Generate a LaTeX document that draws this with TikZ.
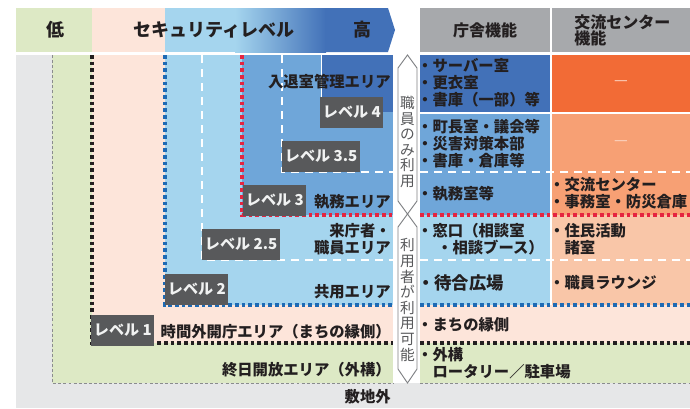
\documentclass[tikz,border=0pt]{standalone}
\usepackage{fontspec}
\setmainfont{Noto Sans CJK JP}
\usepackage{tikz}

\definecolor{bggray}{HTML}{E6E7E8}
\definecolor{lvgreen}{HTML}{DDE9C5}
\definecolor{lvpink}{HTML}{FDE5DA}
\definecolor{lvlight}{HTML}{A5D5EE}
\definecolor{lvmid}{HTML}{6FA6D9}
\definecolor{lvdark}{HTML}{4271B8}
\definecolor{orgdark}{HTML}{F26B36}
\definecolor{orgmid}{HTML}{F7A074}
\definecolor{orgpeach}{HTML}{F9C6A8}
\definecolor{hdgray}{HTML}{A7A9AC}
\definecolor{boxgray}{HTML}{58595B}
\definecolor{boxtext}{HTML}{F1F2F2}
\definecolor{txtdark}{HTML}{231F20}
\definecolor{vtgray}{HTML}{58595B}
\definecolor{ribbongray}{HTML}{808285}
\definecolor{dashblack}{HTML}{231F20}
\definecolor{dashblue}{HTML}{1E6AB4}
\definecolor{dashred}{HTML}{E52440}
\definecolor{dashgray}{HTML}{8A8C8E}
\definecolor{nonemark}{HTML}{FBD8C7}

\begin{document}
\begin{tikzpicture}[x=0.75pt,y=-0.75pt]
  \tikzset{
    lvbox/.style={fill=boxgray, text=boxtext, font=\bfseries\fontsize{11.3}{11.3}\selectfont, inner xsep=2pt, inner ysep=0pt, minimum height=23pt, anchor=south west},
    areatext/.style={anchor=east, inner sep=0pt, text=txtdark, align=right, font=\bfseries\fontsize{11.5}{12.75}\selectfont},
    celltext/.style={anchor=west, inner sep=0pt, text=txtdark, align=left, font=\bfseries\fontsize{11.5}{12.75}\selectfont},
    headtext/.style={inner sep=0pt, text=txtdark, font=\bfseries\fontsize{13.5}{14}\selectfont},
    vtext/.style={inner sep=0pt, text=vtgray, align=center, font=\fontsize{11}{11.7}\selectfont},
    nonetext/.style={inner sep=0pt, text=nonemark, font=\fontsize{11.5}{12}\selectfont},
    lvdash/.style={line width=2.6pt, dash pattern=on 2.8pt off 2.2pt},
    wdash/.style={white, line width=1.2pt, dash pattern=on 6pt off 4.5pt},
    gdash/.style={dashgray, line width=0.7pt, dash pattern=on 2.2pt off 1.6pt},
    ribbon/.style={draw=ribbongray, fill=white, line width=0.7pt}
  }
  \useasboundingbox (0,0) rectangle (690,408);

  % X positions of the zone borders
  \def\xL{16}
  \def\xGr{52}
  \def\xPk{92}
  \def\xLa{165}
  \def\xLb{202}
  \def\xLc{242}
  \def\xLd{282}
  \def\xLe{321}
  \def\xR{393}
  \def\xT{420}
  \def\xM{551}
  \def\xW{690}

  % Y positions
  \def\yH{8}\def\yHb{52}\def\yT{55}
  \def\yFour{112}\def\yThrf{172}\def\yThr{215}\def\yTwf{260}
  \def\yTwo{305}\def\yOne{343}\def\yGr{383}\def\yB{408}

  % ================= HEADER =================
  \fill[lvgreen] (\xL,\yH) rectangle (\xPk,\yHb);
  \fill[lvpink] (\xPk,\yH) rectangle (\xLa,\yHb);
  \fill[lvlight] (\xLa,\yH) rectangle (236,\yHb);
  \shade[left color=lvlight, right color=lvdark] (235,\yH) rectangle (326,\yHb);
  \fill[lvdark] (325,\yH) -- (388,\yH) -- (395,30) -- (388,\yHb) -- (325,\yHb) -- cycle;
  \fill[hdgray] (\xT,\yH) rectangle (\xW,\yHb);

  \node[headtext] (hdLow) at (55,30) {低};
  \node[headtext] (hdLevel) at (214,30) {セキュリティレベル};
  \node[headtext] (hdHigh) at (362,30) {高};
  \node[headtext, font=\bfseries\fontsize{12}{15}\selectfont] (hdOffice) at (485,30) {庁舎機能};
  \node[headtext, anchor=west, align=left, font=\bfseries\fontsize{12}{12}\selectfont] (hdCenter) at (574,30) {交流センター\\機能};

  % ================= NESTED ZONES =================
  \fill[bggray] (\xL,\yT) rectangle (\xW,\yB);
  \fill[white] (\xR,\yT) rectangle (\xT,\yGr);
  \fill[lvgreen] (\xGr,\yT) rectangle (\xR,\yGr);
  \fill[lvpink] (\xPk,\yT) rectangle (\xR,\yOne);
  \fill[lvlight] (\xLa,\yT) rectangle (\xR,\yTwo);
  \fill[lvmid] (\xLc,\yT) rectangle (\xR,\yThr);
  \fill[lvdark] (\xLe,\yT) rectangle (\xR,\yFour);
  \draw[white, line width=0.6pt] (\xLe,\yT) -- (\xLe,98);

  % ================= TABLE CELLS =================
  \fill[lvdark] (\xT,\yT) rectangle (\xM,\yFour);
  \fill[orgdark] (\xM,\yT) rectangle (\xW,\yFour);
  \fill[lvmid] (\xT,\yFour) rectangle (\xM,\yThr);
  \fill[orgmid] (\xM,\yFour) rectangle (\xW,\yThr);
  \fill[lvlight] (\xT,\yThr) rectangle (\xM,\yTwo);
  \fill[orgpeach] (\xM,\yThr) rectangle (\xW,\yTwo);
  \fill[lvpink] (\xT,\yTwo) rectangle (\xW,\yOne);
  \fill[lvgreen] (\xT,\yOne) rectangle (\xW,\yGr);

  % ================= BORDERS =================
  \draw[wdash] (\xLd,\yT) -- (\xLd,\yThrf) -- (\xR,\yThrf);
  \draw[wdash] (\xLb,\yT) -- (\xLb,\yTwf) -- (\xR,\yTwf);
  \draw[wdash] (\xT,\yThrf) -- (\xW,\yThrf);
  \draw[wdash] (\xT,\yTwf) -- (\xW,\yTwf);
  \draw[white, line width=1.1pt] (\xT,\yFour+1) -- (\xW,\yFour+1);
  \draw[white, line width=1.3pt] (\xM,\yH) -- (\xM,\yTwo);

  \draw[gdash] (\xGr,\yT) -- (\xGr,\yGr) -- (\xR,\yGr);
  \draw[gdash] (\xT,\yGr) -- (\xW,\yGr);
  \draw[lvdash, dashblack] (\xPk,\yT) -- (\xPk,\yOne) -- (\xR,\yOne);
  \draw[lvdash, dashblack] (\xT,\yOne) -- (\xW,\yOne);
  \draw[lvdash, dashblue] (\xLa,\yT) -- (\xLa,\yTwo) -- (\xR,\yTwo);
  \draw[lvdash, dashblue] (\xT,\yTwo) -- (\xW,\yTwo);
  \draw[lvdash, dashred] (\xLc,\yT) -- (\xLc,\yThr) -- (\xR,\yThr);
  \draw[lvdash, dashred] (\xT,\yThr) -- (\xW,\yThr);

  % ================= LEVEL TAGS =================
  \node[lvbox] (lvFour) at (320,128) {レベル 4};
  \node[lvbox] (lvThreeHalf) at (282,172) {レベル 3.5};
  \node[lvbox] (lvThree) at (243,216) {レベル 3};
  \node[lvbox] (lvTwoHalf) at (202,260) {レベル 2.5};
  \node[lvbox] (lvTwo) at (165,305) {レベル 2};
  \node[lvbox] (lvOne) at (91,346) {レベル 1};

  % Zone names
  \node[areatext] (arEntry) at (391,82) {入退室管理エリア};
  \node[areatext] (arOffice) at (391,202) {執務エリア};
  \node[areatext] (arVisitor) at (391,239.5) {来庁者・\\職員エリア};
  \node[areatext] (arCommon) at (391,292) {共用エリア};
  \node[areatext] (arAfter) at (391,332) {時間外開庁エリア（まちの縁側）};
  \node[areatext] (arOpen) at (391,370) {終日開放エリア（外構）};
  \node[areatext] (arOutside) at (391,397) {敷地外};

  % ================= USER RIBBONS =================
  \draw[ribbon] (407.5,\yT) -- (417,68) -- (417,201) -- (407.5,214) -- (398,201) -- (398,68) -- cycle;
  \draw[ribbon] (407.5,214) -- (417,227) -- (417,369) -- (407.5,\yGr) -- (398,369) -- (398,227) -- cycle;
  \node[vtext] (vtStaff) at (407.5,142) {職\\員\\の\\み\\利\\用};
  \node[vtext] (vtUser) at (407.5,300) {利\\用\\者\\が\\利\\用\\可\\能};

  % ================= TABLE TEXTS =================
  \node[celltext] (tbRestricted) at (417,83) {・サーバー室\\・更衣室\\・書庫（一部）等};
  \node[nonetext] (tbNoneA) at (621,83) {—};
  \node[celltext] (tbMayor) at (417,144) {・町長室・議会等\\・災害対策本部\\・書庫・倉庫等};
  \node[nonetext] (tbNoneB) at (621,143) {—};
  \node[celltext] (tbWork) at (417,194) {・執務室等};
  \node[celltext] (tbCenter) at (549,193) {・交流センター\\・事務室・防災倉庫};
  \node[celltext] (tbWindow) at (417,239.5) {・窓口（相談室\\\hspace*{1.3em}・相談ブース）};
  \node[celltext] (tbResident) at (549,239.5) {・住民活動\\\hspace*{1em}諸室};
  \node[celltext, font=\bfseries\fontsize{13}{14}\selectfont] (tbWait) at (417,283) {・待合広場};
  \node[celltext] (tbLounge) at (549,283) {・職員ラウンジ};
  \node[celltext] (tbEngawa) at (417,325) {・まちの縁側};
  \node[celltext] (tbExterior) at (417,363.5) {・外構\\\hspace*{1em}ロータリー／駐車場};

\end{tikzpicture}
\end{document}
